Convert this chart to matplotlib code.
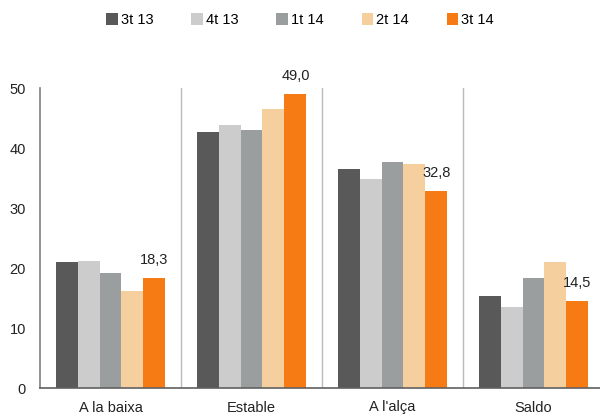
import numpy as np
import matplotlib
matplotlib.use('Agg')
from matplotlib import pyplot as plt

plt.rcParams['font.family'] = ['Liberation Sans', 'DejaVu Sans']

categories = ['A la baixa', 'Estable', "A l'alça", 'Saldo']
series = ['3t 13', '4t 13', '1t 14', '2t 14', '3t 14']
values = {
    '3t 13': [21.0, 42.6, 36.5, 15.3],
    '4t 13': [21.2, 43.8, 34.8, 13.5],
    '1t 14': [19.2, 43.0, 37.7, 18.3],
    '2t 14': [16.2, 46.5, 37.4, 21.0],
    '3t 14': [18.3, 49.0, 32.8, 14.5],
}
colors = ['#595959', '#cccccc', '#9b9e9e', '#f5cf9e', '#f77b14']
labels_last = ['18,3', '49,0', '32,8', '14,5']


def main():
    fig = plt.figure(figsize=(6.0, 4.17), dpi=100)
    ax = fig.add_axes([40 / 600, 1 - 388 / 417, 564 / 600, 300 / 417])

    x = np.arange(len(categories)) + 0.5
    width = 0.156
    for i, name in enumerate(series):
        offs = (i - 2) * width
        bars = ax.bar(x + offs, values[name], width, color=colors[i],
                      label=name, linewidth=0)
        if name == '3t 14':
            for b, txt in zip(bars, labels_last):
                ax.annotate(txt, (b.get_x() + b.get_width() / 2, b.get_height()),
                            xytext=(0, 8), textcoords='offset points',
                            ha='center', va='bottom', fontsize=10.5,
                            color='#222222')

    ax.set_xlim(0, len(categories))
    ax.set_ylim(0, 50)
    ax.set_yticks(range(0, 51, 10))
    ax.set_xticks(x)
    ax.set_xticklabels(categories)
    ax.tick_params(axis='both', length=0, labelsize=10.5, colors='#222222')
    ax.tick_params(axis='x', pad=9)
    ax.tick_params(axis='y', pad=10)

    for sep in range(1, len(categories)):
        ax.axvline(sep, color='#bbbbbb', linewidth=1)

    for s in ['top', 'right']:
        ax.spines[s].set_visible(False)
    ax.spines['left'].set_color('#7f7f7f')
    ax.spines['bottom'].set_color('#606060')
    ax.spines['left'].set_linewidth(1.2)
    ax.spines['bottom'].set_linewidth(1.2)

    fig.legend(loc='upper center', bbox_to_anchor=(0.5, 1.0), ncol=5,
               frameon=False, fontsize=10.5, handlelength=0.8,
               handleheight=0.8, handletextpad=0.2, columnspacing=2.6)

    fig.savefig('out.png', dpi=100)


if __name__ == '__main__':
    main()
